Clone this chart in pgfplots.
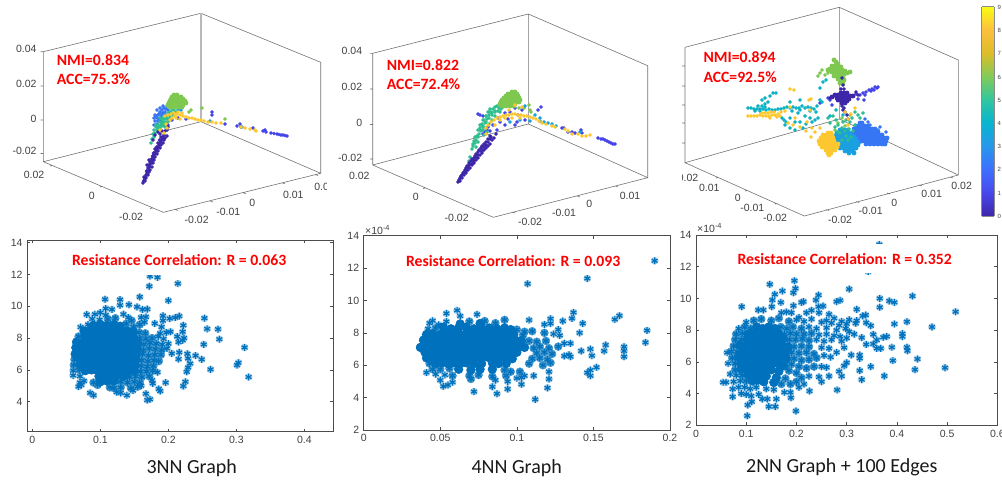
\documentclass[border=0pt]{standalone}
\usepackage{pgfplots}
\usepackage{fontspec}
\pgfplotsset{compat=1.18}
\usepackage{pgfplotstable}
\setmainfont{Liberation Sans}
\newfontfamily\calib{Carlito}
\newcommand{\redf}{\calib\bfseries\fontsize{15.7}{18}\selectfont}
\newcommand{\capf}{\calib\fontsize{20}{22}\selectfont}
\newcommand{\tkf}{\fontsize{10.5}{12}\selectfont}
\definecolor{tk}{gray}{0.25}
\definecolor{mb}{RGB}{0,114,189}
\definecolor{c0}{RGB}{62,38,168}
\definecolor{c1}{RGB}{68,68,232}
\definecolor{c2}{RGB}{54,118,245}
\definecolor{c3}{RGB}{26,160,224}
\definecolor{c4}{RGB}{10,178,196}
\definecolor{c5}{RGB}{46,190,144}
\definecolor{c6}{RGB}{126,200,80}
\definecolor{c8}{RGB}{253,200,47}
\pgfplotsset{
 colormap={parula}{rgb=(0.2422,0.1504,0.6603) rgb=(0.2803,0.2782,0.9221) rgb=(0.2440,0.4358,0.9988) rgb=(0.1540,0.5902,0.9218) rgb=(0.0297,0.7082,0.8163) rgb=(0.1938,0.7758,0.6251) rgb=(0.5044,0.7993,0.3480) rgb=(0.8634,0.7406,0.1596) rgb=(0.9892,0.7500,0.2400) rgb=(0.9769,0.9839,0.0805)},
 low/.style={axis lines=box,scale only axis,anchor=south west,clip=true,tick align=inside,major tick length=3pt,
   axis line style={draw=black!70,line width=.6pt},tick style={draw=black!70,line width=.5pt},
   xtick pos=both,ytick pos=both,
   ytick={2,4,...,14},ymin=2,ymax=14,scaled ticks=false,
   tick label style={font=\tkf,text=tk},
   xticklabel style={yshift=-1pt},yticklabel style={xshift=-1pt},
   /pgf/number format/assume math mode=true},
 star/.style={only marks,mark=asterisk,mark size=3.4pt,color=mb,mark options={line width=1.2pt,solid}},
 halo/.style={only marks,mark=*,mark size=3.6pt,color=mb!35,mark options={draw=none}},
 mid/.style={only marks,mark=*,mark size=4pt,color=mb!72,mark options={draw=none}},
 core/.style={only marks,mark=*,mark size=4.4pt,color=mb,mark options={draw=none}},
 dots/.style={only marks,mark=*,mark size=1.7pt,color=#1,mark options={draw=none,fill=#1}},
 dotb/.style={only marks,mark=*,mark size=2.2pt,color=#1,mark options={draw=none,fill=#1}},
 box3/.style={draw=black!55,line width=.6pt,no marks,unbounded coords=jump},
}
\pgfplotstableread[row sep=\\]{x y\\
0.173 11.9\\0.184 11.82\\0.214 11.43\\0.172 11.26\\0.2 10.36\\0.158 10.59\\0.107 10.44\\0.129 10.42\\0.142 10.1\\0.154 9.96\\0.162 9.8\\0.169 9.82\\0.117 9.8\\0.108 9.86\\0.129 10.07\\0.08 9.48\\0.071 8.69\\0.192 9.4\\0.202 9.23\\0.21 9.29\\0.216 9.38\\0.253 9.25\\0.257 8.58\\0.273 8.56\\0.275 7.93\\0.252 7.6\\0.312 7.41\\0.303 6.45\\0.301 6.3\\0.318 5.55\\0.262 6.03\\0.249 6.66\\0.24 6.9\\0.228 7.01\\0.229 6.72\\0.232 6.4\\0.229 6.15\\0.227 5.88\\0.225 5.25\\0.222 4.98\\0.196 5.2\\0.188 4.67\\0.186 4.8\\0.177 5.15\\0.176 5.35\\0.167 4.5\\0.169 4.1\\0.173 4.15\\0.215 6.68\\0.205 7.03\\0.216 7.1\\0.221 7.87\\0.223 8.0\\0.213 8.1\\0.221 8.4\\0.222 8.8\\0.18 8.92\\0.19 8.7\\0.192 9.1\\0.167 9.33\\0.16 9.3\\0.203 8.4\\0.197 8.35\\0.188 8.3\\0.215 7.75\\
0.1 9.6\\0.092 9.5\\0.108 9.45\\0.088 9.2\\0.099 9.15\\0.111 9.2\\0.122 9.25\\0.134 9.5\\0.141 9.3\\0.146 9.1\\
0.082 8.85\\0.09 8.8\\0.1 8.85\\0.11 8.8\\0.12 8.85\\0.129 8.75\\0.138 8.9\\0.149 8.7\\0.158 8.85\\0.165 9.0\\
0.076 8.45\\0.085 8.5\\0.094 8.4\\0.103 8.5\\0.112 8.45\\0.121 8.5\\0.13 8.4\\0.139 8.45\\0.148 8.4\\0.157 8.35\\0.166 8.3\\
0.068 8.1\\0.077 8.1\\0.086 8.15\\0.095 8.05\\0.104 8.15\\0.113 8.1\\0.122 8.15\\0.131 8.05\\0.14 8.1\\0.149 8.0\\0.158 8.0\\0.167 7.95\\0.176 8.0\\0.185 8.1\\0.193 7.95\\
0.065 7.75\\0.074 7.7\\0.083 7.8\\0.092 7.7\\0.101 7.75\\0.11 7.7\\0.119 7.8\\0.128 7.7\\0.137 7.75\\0.146 7.65\\0.155 7.7\\0.164 7.6\\0.173 7.7\\0.182 7.65\\0.191 7.6\\0.2 7.65\\
0.064 7.4\\0.073 7.35\\0.082 7.4\\0.091 7.35\\0.1 7.4\\0.109 7.35\\0.118 7.4\\0.127 7.35\\0.136 7.4\\0.145 7.3\\0.154 7.35\\0.163 7.25\\0.172 7.35\\0.181 7.3\\0.19 7.25\\0.198 7.35\\
0.063 7.0\\0.072 7.05\\0.081 7.0\\0.09 7.05\\0.099 7.0\\0.108 7.05\\0.117 7.0\\0.126 7.05\\0.135 7.0\\0.144 6.95\\0.153 6.95\\0.162 7.0\\0.171 6.9\\0.18 6.95\\0.189 6.95\\
0.062 6.65\\0.071 6.7\\0.08 6.65\\0.089 6.7\\0.098 6.65\\0.107 6.7\\0.116 6.65\\0.125 6.7\\0.134 6.65\\0.143 6.6\\0.152 6.65\\0.161 6.6\\0.17 6.55\\0.179 6.6\\0.186 6.55\\
0.061 6.3\\0.07 6.35\\0.079 6.3\\0.088 6.35\\0.097 6.3\\0.106 6.35\\0.115 6.3\\0.124 6.35\\0.133 6.3\\0.142 6.25\\0.151 6.3\\0.16 6.25\\0.169 6.2\\0.178 6.25\\
0.06 5.95\\0.069 6.0\\0.078 5.95\\0.087 6.0\\0.096 5.95\\0.105 6.0\\0.114 5.95\\0.123 6.0\\0.132 5.95\\0.141 5.9\\0.15 5.95\\0.159 5.9\\0.168 5.9\\0.177 5.95\\0.184 5.85\\
0.06 5.65\\0.07 5.6\\0.098 5.6\\0.107 5.65\\0.116 5.6\\0.125 5.65\\0.134 5.6\\0.143 5.55\\0.152 5.6\\0.161 5.55\\0.172 5.6\\
0.07 5.2\\0.076 5.3\\0.09 5.2\\0.1 5.25\\0.11 5.3\\0.12 5.3\\0.13 5.25\\0.14 5.2\\0.15 5.25\\0.158 5.2\\
0.068 4.95\\0.072 5.05\\0.096 5.05\\0.114 4.9\\0.12 4.85\\0.13 4.9\\0.145 4.85\\0.155 4.95\\0.16 5.0\\
0.085 4.55\\0.09 4.4\\0.124 4.6\\0.13 4.55\\0.139 4.4\\0.148 4.7\\
}\tblA
\pgfplotstableread[row sep=\\]{x y\\
0.19 12.45\\0.107 11.03\\0.146 11.36\\0.061 9.39\\0.054 9.2\\0.063 9.04\\0.074 9.14\\0.137 9.26\\0.136 8.89\\0.167 9.06\\0.164 8.83\\0.143 8.58\\0.122 8.87\\0.13 8.73\\0.108 8.79\\0.118 8.52\\0.122 8.58\\0.185 8.15\\0.141 8.0\\0.118 8.0\\0.127 8.2\\0.124 7.93\\0.128 7.84\\0.184 7.41\\0.158 7.25\\0.157 6.88\\0.17 7.14\\0.17 6.88\\0.17 6.53\\0.148 7.0\\0.142 6.88\\0.149 6.59\\0.135 6.53\\0.131 6.57\\0.152 5.87\\0.148 5.7\\0.146 5.54\\0.148 5.35\\0.111 5.35\\0.121 5.6\\0.121 5.15\\0.12 4.6\\0.112 3.89\\0.094 4.53\\0.087 4.24\\0.072 4.37\\0.094 5.0\\0.1 5.2\\0.103 4.82\\0.084 4.67\\0.135 7.35\\0.131 7.35\\0.134 6.65\\
0.045 8.75\\0.054 8.7\\0.069 8.7\\0.076 8.58\\0.079 8.73\\0.086 8.6\\0.092 8.8\\0.1 8.2\\0.105 8.07\\0.043 8.6\\0.049 8.5\\0.063 8.55\\
0.042 8.25\\0.047 8.3\\0.052 8.35\\0.057 8.25\\0.062 8.3\\0.067 8.35\\0.072 8.25\\0.077 8.3\\0.082 8.3\\0.087 8.25\\0.092 8.3\\0.096 8.2\\
0.041 7.9\\0.045 7.95\\0.05 7.9\\0.054 8.0\\0.058 7.9\\0.062 7.95\\0.066 7.9\\0.07 8.0\\0.074 7.9\\0.078 7.95\\0.082 7.9\\0.086 7.95\\0.09 7.85\\0.094 7.9\\0.098 7.9\\0.104 7.85\\0.11 8.1\\
0.039 7.55\\0.043 7.6\\0.047 7.55\\0.051 7.6\\0.055 7.55\\0.059 7.6\\0.063 7.55\\0.067 7.6\\0.071 7.55\\0.075 7.6\\0.079 7.55\\0.083 7.6\\0.087 7.55\\0.091 7.6\\0.095 7.55\\0.099 7.55\\0.103 7.5\\0.108 7.5\\0.113 7.45\\0.119 7.5\\
0.037 7.1\\0.041 7.2\\0.045 7.15\\0.049 7.2\\0.053 7.15\\0.057 7.2\\0.061 7.15\\0.065 7.2\\0.069 7.15\\0.073 7.2\\0.077 7.15\\0.081 7.2\\0.085 7.15\\0.089 7.2\\0.093 7.15\\0.097 7.2\\0.101 7.15\\0.105 7.1\\0.111 7.05\\0.115 7.15\\0.121 7.05\\0.127 7.15\\
0.04 6.8\\0.044 6.8\\0.048 6.85\\0.052 6.8\\0.056 6.85\\0.06 6.8\\0.064 6.85\\0.068 6.8\\0.072 6.85\\0.076 6.8\\0.08 6.85\\0.084 6.8\\0.088 6.85\\0.092 6.8\\0.096 6.85\\0.1 6.8\\0.113 6.75\\0.118 6.8\\0.123 6.7\\
0.041 6.45\\0.045 6.45\\0.049 6.5\\0.053 6.45\\0.057 6.5\\0.061 6.45\\0.065 6.5\\0.069 6.45\\0.073 6.5\\0.077 6.45\\0.081 6.5\\0.085 6.45\\0.089 6.5\\0.093 6.45\\0.097 6.4\\0.11 6.4\\0.115 6.45\\0.12 6.35\\
0.043 6.1\\0.047 6.1\\0.051 6.15\\0.055 6.1\\0.059 6.15\\0.063 6.1\\0.067 6.15\\0.072 6.1\\0.077 6.1\\0.084 6.15\\0.088 6.1\\0.093 6.1\\0.108 6.1\\0.117 6.0\\0.122 6.15\\
0.041 5.55\\0.045 5.75\\0.05 5.75\\0.056 5.8\\0.062 5.75\\0.07 5.7\\0.076 5.75\\0.084 5.75\\0.092 5.7\\0.096 5.6\\0.102 5.6\\0.105 5.35\\
0.047 5.45\\0.053 5.4\\0.058 5.35\\0.069 5.35\\0.075 5.4\\0.084 5.3\\0.093 5.35\\
0.05 5.08\\0.055 4.78\\0.058 4.95\\0.07 5.15\\0.086 5.08\\0.103 5.25\\0.052 4.7\\
}\tblB
\pgfplotstableread[row sep=\\]{x y\\
0.517 9.16\\0.47 8.2\\0.496 5.63\\0.436 5.51\\0.441 6.18\\0.431 10.15\\0.395 9.75\\0.385 9.84\\0.366 10.0\\0.366 9.44\\0.32 9.31\\0.305 10.59\\0.287 9.88\\0.28 9.8\\0.42 8.53\\0.395 8.39\\0.411 7.78\\0.411 7.59\\0.42 6.92\\0.421 6.7\\0.39 6.92\\0.392 6.08\\0.375 5.11\\0.348 5.7\\0.33 4.88\\0.326 5.45\\0.281 4.23\\0.368 6.85\\0.36 6.85\\0.353 7.13\\0.339 7.1\\0.36 7.38\\0.373 7.55\\0.38 7.6\\0.353 7.73\\0.348 8.28\\0.339 8.47\\0.332 8.9\\0.338 8.95\\0.318 8.43\\0.33 7.53\\0.309 6.43\\0.326 6.43\\0.326 6.22\\0.196 11.12\\0.147 10.89\\0.172 10.47\\0.198 10.63\\0.194 10.36\\0.157 10.26\\0.244 10.21\\0.091 9.48\\0.169 9.75\\0.152 9.9\\0.194 9.54\\0.214 9.8\\0.134 9.27\\0.124 9.27\\0.151 9.48\\0.253 9.52\\0.244 9.48\\0.239 9.9\\0.199 2.9\\0.102 2.6\\0.103 3.28\\0.145 3.18\\0.158 3.18\\0.16 3.66\\0.189 3.74\\0.188 4.08\\0.226 4.16\\0.176 4.08\\0.054 4.71\\0.06 4.71\\0.073 3.8\\0.062 6.58\\0.064 5.9\\0.068 5.23\\0.073 4.29\\0.111 3.49\\0.132 3.66\\0.142 3.66\\0.365 13.4\\0.343 11.7\\
0.32 8.6\\0.305 8.65\\0.3 8.4\\0.29 8.55\\0.298 8.1\\0.305 7.9\\0.315 7.75\\0.3 7.5\\0.29 7.3\\0.295 6.9\\0.3 5.95\\0.295 5.75\\0.285 5.4\\0.29 5.1\\0.265 5.1\\0.25 4.75\\0.245 5.05\\0.26 5.65\\0.268 6.3\\0.28 6.6\\0.265 9.0\\0.275 8.75\\0.26 8.6\\0.245 9.1\\0.23 9.25\\0.22 9.1\\0.21 9.75\\0.17 9.1\\0.18 9.15\\0.19 9.1\\0.205 8.8\\0.215 4.6\\0.205 4.4\\0.235 5.7\\0.25 5.7\\0.24 6.25\\0.255 6.4\\
0.1 8.5\\0.115 8.6\\0.13 8.7\\0.15 8.6\\0.165 8.75\\0.185 8.55\\0.2 8.65\\0.215 8.55\\0.23 8.7\\0.25 8.5\\0.27 8.45\\0.285 8.3\\
0.085 8.1\\0.097 8.2\\0.109 8.1\\0.121 8.2\\0.133 8.1\\0.145 8.2\\0.157 8.1\\0.169 8.2\\0.181 8.1\\0.193 8.2\\0.21 8.1\\0.225 8.2\\0.24 8.1\\0.26 8.15\\0.28 8.0\\
0.08 7.75\\0.092 7.8\\0.104 7.75\\0.116 7.8\\0.128 7.75\\0.14 7.8\\0.152 7.75\\0.164 7.8\\0.176 7.75\\0.188 7.8\\0.2 7.75\\0.215 7.75\\0.23 7.8\\0.245 7.7\\0.26 7.75\\0.275 7.65\\0.287 7.6\\
0.078 7.4\\0.09 7.4\\0.102 7.45\\0.114 7.4\\0.126 7.45\\0.138 7.4\\0.15 7.45\\0.162 7.4\\0.174 7.45\\0.186 7.4\\0.198 7.4\\0.212 7.45\\0.225 7.35\\0.24 7.4\\0.255 7.3\\0.27 7.4\\
0.075 7.0\\0.087 7.05\\0.099 7.0\\0.111 7.05\\0.123 7.0\\0.135 7.05\\0.147 7.0\\0.159 7.05\\0.171 7.0\\0.183 6.95\\0.195 6.95\\0.21 7.0\\0.225 6.95\\0.25 6.9\\0.265 6.85\\
0.07 6.65\\0.082 6.65\\0.094 6.7\\0.106 6.65\\0.118 6.7\\0.13 6.65\\0.142 6.7\\0.154 6.65\\0.166 6.6\\0.178 6.55\\0.19 6.6\\0.205 6.55\\0.22 6.6\\0.235 6.5\\
0.072 6.25\\0.084 6.3\\0.096 6.25\\0.108 6.3\\0.12 6.25\\0.132 6.3\\0.144 6.25\\0.156 6.3\\0.168 6.25\\0.18 6.2\\0.195 6.2\\0.21 6.1\\0.225 6.15\\
0.078 5.9\\0.09 5.9\\0.102 5.95\\0.114 5.9\\0.126 5.95\\0.138 5.9\\0.15 5.95\\0.162 5.9\\0.175 5.75\\0.19 5.85\\0.205 5.7\\0.22 5.6\\
0.078 5.5\\0.09 5.55\\0.102 5.5\\0.114 5.55\\0.126 5.5\\0.138 5.55\\0.15 5.5\\0.165 5.4\\0.185 5.45\\0.2 5.3\\
0.08 5.15\\0.092 5.15\\0.104 5.2\\0.116 5.15\\0.128 5.2\\0.14 5.1\\0.16 5.0\\0.178 4.95\\0.21 5.0\\0.225 5.1\\
0.075 4.75\\0.088 4.8\\0.1 4.8\\0.112 4.8\\0.124 4.85\\0.135 4.75\\0.155 4.7\\0.17 4.6\\0.188 4.6\\0.2 4.75\\
0.085 4.4\\0.097 4.4\\0.108 4.3\\0.12 4.4\\0.14 4.3\\0.155 4.25\\
0.09 4.0\\0.1 3.95\\0.11 3.85\\0.125 3.95\\
}\tblC
\begin{document}
\begin{tikzpicture}
\path[use as bounding box] (0,0) rectangle (1002pt,480pt);
% lower row
\begin{axis}[low,at={(27pt,48.3pt)},width=306pt,height=191.7pt,xmin=-0.0078,xmax=0.442,ymin=2.11,ymax=14.17,ytick={4,6,...,14},
 xtick={0,0.1,0.2,0.3,0.4},xticklabels={0,0.1,0.2,0.3,0.4}]
\addplot[halo] table[x=x,y=y] {\tblA};
\addplot[mid,restrict expr to domain={((\thisrow{x}-0.125)/0.068)^2+((\thisrow{y}-7.0)/2.3)^2}{0:1}] table[x=x,y=y] {\tblA};
\addplot[star] table[x=x,y=y] {\tblA};
\addplot[core,restrict expr to domain={((\thisrow{x}-0.112)/0.05)^2+((\thisrow{y}-7.1)/1.95)^2}{0:1}] table[x=x,y=y] {\tblA};
\end{axis}
\begin{axis}[low,at={(363.7pt,50pt)},width=306.3pt,height=194.3pt,xmin=0,xmax=0.2,
 xtick={0,0.05,0.1,0.15,0.2},xticklabels={0,0.05,0.1,0.15,0.2}]
\addplot[halo] table[x=x,y=y] {\tblB};
\addplot[mid,restrict expr to domain={((\thisrow{x}-0.08)/0.05)^2+((\thisrow{y}-7.0)/1.9)^2}{0:1}] table[x=x,y=y] {\tblB};
\addplot[star] table[x=x,y=y] {\tblB};
\addplot[core,restrict expr to domain={((\thisrow{x}-0.072)/0.036)^2+((\thisrow{y}-7.15)/1.5)^2}{0:1}] table[x=x,y=y] {\tblB};
\end{axis}
\begin{axis}[low,at={(696pt,54.7pt)},width=301.3pt,height=190.3pt,xmin=0,xmax=0.6,
 xtick={0,0.1,0.2,0.3,0.4,0.5,0.6},xticklabels={0,0.1,0.2,0.3,0.4,0.5,0.6}]
\addplot[halo] table[x=x,y=y] {\tblC};
\addplot[mid,restrict expr to domain={((\thisrow{x}-0.155)/0.09)^2+((\thisrow{y}-6.6)/2.3)^2}{0:1}] table[x=x,y=y] {\tblC};
\addplot[star] table[x=x,y=y] {\tblC};
\addplot[core,restrict expr to domain={((\thisrow{x}-0.135)/0.052)^2+((\thisrow{y}-6.4)/1.9)^2}{0:1}] table[x=x,y=y] {\tblC};
\end{axis}
% colorbar
\begin{axis}[at={(981.7pt,264pt)},anchor=south west,scale only axis,width=12.6pt,height=209.3pt,xmin=0,xmax=1,ymin=0,ymax=9,xtick=\empty,ytick=\empty,view={0}{90},colormap name=parula,axis line style={draw=black!45,line width=.6pt}]
\addplot3[surf,shader=interp,point meta=y] coordinates {(0,0,0)(1,0,0)

(0,9,0)(1,9,0)};
\end{axis}
% overlay in image pixels: upper row and all annotations
\begin{axis}[at={(0pt,0pt)},anchor=south west,scale only axis,width=1002pt,height=480pt,xmin=0,xmax=1002,ymin=0,ymax=480,y dir=reverse,hide axis,clip=false]
% --- panel 1 box
\addplot[box3] coordinates {(43.3,51.7)(201,13.3)(320.7,62.3)(320.7,173.3)(163.3,212.3)(43.3,161.7)(43.3,51.7)(nan,nan)(43.3,161.7)(201,121.7)(320.7,173.3)
(nan,nan)(40.5,51.7)(43.3,51.7)(nan,nan)(40.5,86)(43.3,86)(nan,nan)(40.5,120)(43.3,120)(nan,nan)(40.5,153.5)(43.3,153.5)
(nan,nan)(50,166)(52.5,165.5)(nan,nan)(100,187)(102.5,186.5)(nan,nan)(150,208.5)(152.5,208)(nan,nan)(175,209.5)(178,210.5)(nan,nan)(210,201)(213,202)(nan,nan)(243,192.7)(246,193.7)(nan,nan)(281.7,182.7)(284.7,183.7)(nan,nan)(315,174.5)(318,175.5)};
\addplot[draw=black!28,line width=1.2pt,no marks] coordinates {(201,13.3)(201,121.7)};
% --- panel 2 box
\addplot[box3] coordinates {(372.7,53.3)(528.3,14)(647.7,65.7)(647.7,177.7)(493.3,217.3)(372.7,165)(372.7,53.3)(nan,nan)(372.7,165)(528.3,124)(647.7,177.7)
(nan,nan)(528.3,14)(528.3,124)
(nan,nan)(370,53.3)(372.7,53.3)(nan,nan)(370,89)(372.7,89)(nan,nan)(370,124.5)(372.7,124.5)(nan,nan)(370,159)(372.7,159)
(nan,nan)(423,188.5)(425.5,188)(nan,nan)(473,210)(475.5,209.5)(nan,nan)(512,212)(515,213)(nan,nan)(577,196)(580,197)(nan,nan)(615,186)(618,187)(nan,nan)(615,186)(615,186)};
% --- panel 3 box
\addplot[box3] coordinates {(685,47.3)(839.3,7.3)(958.3,60)(958.3,175)(804.3,216)(685,162.7)(685,47.3)(nan,nan)(685,162.7)(839.3,119)(958.3,175)
(nan,nan)(839.3,7.3)(839.3,119)
(nan,nan)(682,66)(685,66)(nan,nan)(682,86)(685,86)(nan,nan)(682,105)(685,105)(nan,nan)(682,123)(685,123)(nan,nan)(682,143)(685,143)
(nan,nan)(716,178)(718.5,177.5)(nan,nan)(745,191)(747.5,190.5)(nan,nan)(775,204)(777.5,203.5)
(nan,nan)(826,209.5)(829,210.5)(nan,nan)(856,201.5)(859,202.5)(nan,nan)(887,193)(890,194)(nan,nan)(919,185)(922,186)(nan,nan)(950,177)(953,178)};
% --- panel 1 points
\addplot[dots=c1] coordinates {(172,120)(178,118)(186,119)(168,125)(212,112)(212,115)(225,124)(237,126)(240,124)(241,127)(253,128)(263,131)(266,132)(265,130)(271,133)(274,133.5)(277,134)(279,134.5)(281,135)(283,135)(285,135.5)(287,136)};
\addplot[dots=c2] coordinates {(157,118)(158,115)(160,112)(162,110)(164,108)(166,109)(168,110)(159,119)(161,116)(163,113)(165,112)(158,121)(167,106)(155,121)(170,107)(156,116)(157,110)(160,108)(163,106)(155,115)(154,118)(159,114)(162,114)(165,115)(161,121)(157,124)(154,125)};
\addplot[dots=c3] coordinates {(210,121)(242,127)(178,110)(181,110)};
\addplot[dots=c5] coordinates {(151,143)(152,139)(154,137)(155,133)(157,130)(159,127)(161,125)(163,122)(165,119)(167,116)(169,114)(171,112)(162,119)(160,122)(158,125)(166,122)(164,125)(168,119)(170,117)(172,109)(174,110)(176,112)(173,115)(156,125)(158,128)(160,118)(162,126)(164,122)(166,118)(168,113)(154,130)(156,127)(160,128)(162,123)(165,127)(163,118)(170,112)(153,134)(167,123)(169,121)(171,118)};
\addplot[dotb=c6] coordinates {(174,95)(177,95)(172,97)(175,97)(178,97)(181,97)(171,99)(174,99)(177,99)(180,99)(183,99)(170,101)(173,101)(176,101)(179,101)(182,101)(185,101)(169,103)(172,103)(175,103)(178,103)(181,103)(184,103)(186,103)(168,105)(171,105)(174,105)(177,105)(180,105)(183,105)(170,107)(174,107)(178,107)(182,107)};
\addplot[dots=c6] coordinates {(191,110)(202,108)(225,119)(189,112)};
\addplot[dots=c0] coordinates {(143,183)(143.5,181)(144.5,179)(144,177)(145.5,177)(146,175)(147,173)(146.5,171)(148,171)(148,168)(149.5,167)(149,165)(150.5,164)(150,162)(152,161)(151.5,159)(153,158)(152.5,156)(154,155)(155,153)(153.5,153)(156,151)(155,149)(157,149)(158,147)(156.5,147)(159,145)(158,143)(160,143)(161,141)(159.5,140)(162,139)(163,137)(161,137)(164,135)(160,134)(155,135)(153,140)(167,130)(165,131)(168,127)(158,132)(162,131)(145,181)(146,178)(148,175)(149,172)(150,170)(152,167)(153,163)(154,160)(155,157)(157,154)(158,151)(160,148)(161,145)(163,143)(164,140)(165,138)(167,136)(149,160)(147,165)};
\addplot[dots=c8] coordinates {(165,116)(168,115)(171,114)(174,113)(177,114)(180,115)(183,116)(186,117)(189,118)(192,118)(195,119)(198,120)(201,120)(204,121)(208,122)(212,122)(216,123)(221,123)(172,118)(176,118)(180,119)(170,120)(178,112)(182,113)(175,116)(167,128)(164,133)(166,124)(245,128)(250,129)(255,130)(256,131)(241,127)(160,130)};
% --- panel 2 points
\addplot[dots=c1] coordinates {(480,115)(478,114)(483,116)(485,132)(487,130)(490,131)(483,134)(488,127)(493,125)(498,118)(505,113)(510,112)(515,108)(522,110)(518,115)(508,119)(500,122)(505,125)(517,122)(525,120)(515,125)(541,107)(538,110)(497,130)(581,130)(562,128)(564,128)(568,132)(572,132)(575,133)(582,133)(598,138)(601,139)(603,139)(605,140)(607,141)(609,142)(611,143)(613,144)(615,144)};
\addplot[dots=c5] coordinates {(472,149)(473,146)(475,143)(476,140)(478,137)(479,134)(481,131)(480,128)(483,127)(482,124)(485,123)(484,120)(487,119)(486,116)(489,115)(488,112)(491,112)(490,109)(493,109)(495,107)(497,106)(499,108)(483,130)(486,128)(489,124)(492,120)(495,116)(492,113)(495,111)(498,111)(500,105)(501,109)(478,142)(476,147)(500,112)(503,107)(470,157)(469,161)(478,130)(480,125)(483,120)(486,116)(489,112)(475,137)(477,136)(480,130)(483,126)(486,122)(489,118)(492,115)(495,112)(484,135)(487,132)(474,141)(473,144)};
\addplot[dotb=c6] coordinates {(512,92)(515,92)(508,94)(511,94)(514,94)(517,94)(506,96)(509,96)(512,96)(515,96)(518,96)(504,98)(507,98)(510,98)(513,98)(516,98)(519,98)(502,100)(505,100)(508,100)(511,100)(514,100)(517,100)(520,100)(501,102)(504,102)(507,102)(510,102)(513,102)(516,102)(519,102)(500,104)(503,104)(506,104)(509,104)(512,104)(515,104)(502,106)(506,106)(510,106)(514,106)};
\addplot[dots=c6] coordinates {(529,105)(524,108)(531,112)(530,110)(519,108)};
\addplot[dots=c0] coordinates {(458,182)(459,180)(460,178)(461,177)(462,175)(461,176)(463,173)(464,172)(465,170)(466,171)(466,168)(467,166)(468,167)(469,165)(469,163)(471,164)(471,161)(472,159)(473,160)(474,158)(475,156)(476,157)(476,154)(478,155)(478,152)(479,150)(481,151)(481,148)(482,146)(484,147)(484,144)(486,145)(486,142)(488,142)(488,139)(490,139)(491,137)(483,150)(474,161)(473,163)(460,181)(462,178)(464,175)(466,173)(468,170)(470,168)(472,165)(474,163)(476,160)(478,158)(480,155)(482,153)(484,150)(486,148)(488,146)(490,144)(492,140)(490,136)(494,138)(496,134)};
\addplot[dots=c3] coordinates {(540,121)(544,122)(548,123)(552,124)(556,126)(535,115)(525,106)(520,120)(510,122)(540,118)(530,121)(580,132)};
\addplot[dots=c8] coordinates {(486,128)(488,125)(491,122)(494,120)(497,118)(500,117)(503,116)(506,115)(509,115)(512,114)(515,114)(518,115)(521,115)(524,116)(527,116)(530,117)(533,118)(536,119)(539,121)(542,123)(546,124)(552,126)(555,127)(500,120)(505,118)(512,118)(520,118)(495,125)(486,134)(565,129)(568,131)(572,134)(578,134)(582,136)(586,136)(590,135)(509,110)(515,105)(522,107)};
% --- panel 3 points
\addplot[dotb=c6] coordinates {(834,60)(836,62)(838,64)(832,66)(835,66)(838,67)(841,67)(830,69)(833,69)(836,70)(839,70)(842,70)(845,71)(828,70)(832,72)(835,73)(838,73)(841,73)(844,74)(847,73)(850,72)(834,76)(837,76)(840,76)(843,77)(838,79)(841,80)(844,80)(840,83)(843,84)};
\addplot[dots=c6] coordinates {(820,73)(822,70)(825,75)(828,73)(818,76)(842,118)(838,123)(845,126)(835,130)(850,115)};
\addplot[dotb=c3] coordinates {(840,130)(844,130)(848,130)(837,133)(841,133)(845,133)(849,133)(853,133)(835,136)(839,136)(843,136)(847,136)(851,136)(855,136)(835,139)(839,139)(843,139)(847,139)(851,139)(855,139)(859,139)(835,142)(839,142)(843,142)(847,142)(851,142)(855,142)(859,142)(838,145)(842,145)(846,145)(850,145)(854,145)(858,145)(840,148)(844,148)(848,148)(852,148)(856,148)(845,151)(849,151)(853,151)(849,153)(854,153)};
\addplot[dotb=c2] coordinates {(860,123)(862,123)(856,126)(859,126)(862,126)(865,126)(868,126)(854,129)(857,129)(860,129)(863,129)(866,129)(869,129)(872,129)(875,129)(854,132)(857,132)(860,132)(863,132)(866,132)(869,132)(872,132)(875,132)(878,132)(858,135)(861,135)(864,135)(867,135)(870,135)(873,135)(876,135)(879,135)(882,135)(860,138)(863,138)(866,138)(869,138)(872,138)(875,138)(878,138)(881,138)(884,138)(887,138)(862,141)(865,141)(868,141)(871,141)(874,141)(877,141)(880,141)(883,141)(886,141)(866,144)(870,144)(874,144)(878,144)(882,144)(885,144)};
\addplot[dots=c2] coordinates {(880,127)(878,130)(886,132)(870,125)(865,119)(868,122)};
\addplot[dots=c5] coordinates {(846,120)(850,122)(855,125)(835,127)(838,125)(842,128)(845,131)(849,129)(853,131)(840,133)(846,136)(851,137)(836,120)(828,118)(833,116)(858,115)(863,113)(860,118)(852,118)(830,123)(843,122)(848,140)(842,140)(838,132)(855,112)};
\addplot[dots=c1] coordinates {(860,95)(863,93)(866,92)(869,90)(872,89)(875,87)(877,88)(874,90)(871,91)(878,87)(856,94)(864,100)(858,99)(865,95)(828,98)(830,100)(832,105)(820,103)};
\addplot[dotb=c0] coordinates {(832,97)(835,95)(838,95)(841,93)(844,93)(847,93)(850,96)(853,96)(837,98)(840,97)(843,96)(846,97)(849,99)(838,100)(841,100)(844,100)(847,101)(842,103)(845,103)};
\addplot[dots=c0] coordinates {(842,106)(844,108)(843,110)(845,112)(841,89)(844,89)(847,115)(848,119)(842,78)(843,85)(856,92)(858,95)(830,98)};
\addplot[dots=c4] coordinates {(748,108)(751,108)(754,109)(757,109)(760,109)(763,109)(766,110)(769,109)(772,110)(775,110)(778,109)(781,109)(765,107)(758,106)(762,106)(765,104)(768,102)(762,100)(765,98)(770,96)(773,93)(776,93)(755,111)(760,111)(784,108)(787,107)(790,108)(793,107)(796,108)(799,108)(802,106)(805,108)(808,107)(811,108)(814,109)(817,106)(792,111)(800,110)(810,111)(782,118)(786,122)(790,118)(785,125)(795,130)(800,122)(805,116)(810,118)(790,102)(800,100)(816,112)(820,100)(823,82)(826,80)(820,88)(822,102)(790,128)(830,116)(836,110)(843,115)(795,122)(803,128)(812,122)(818,118)(798,113)(806,124)(815,120)(784,120)};
\addplot[dotb=c8] coordinates {(828,133)(831,133)(823,135)(826,135)(829,135)(832,135)(821,138)(824,138)(827,138)(830,138)(833,138)(819,141)(822,141)(825,141)(828,141)(831,141)(834,141)(820,144)(823,144)(826,144)(829,144)(832,144)(835,144)(838,144)(822,147)(825,147)(828,147)(831,147)(834,147)(837,147)(826,150)(829,150)(832,150)(835,150)(828,153)(831,153)(829,155)};
\addplot[dots=c8] coordinates {(812,128)(815,132)(811,137)(806,131)(820,128)(845,112)(855,108)(848,125)(810,110)(807,122)(800,127)(793,125)(788,123)(795,118)(848,119)(851,114)(748,116)(751,116)(754,116)(757,116)(760,115)(763,116)(766,116)(769,116)(772,115)(775,115)(778,114)(781,112)(765,113)(768,113)(771,112)(774,112)(777,117)(770,118)(762,113)(780,116)(785,111)(790,107)(809,100)(811,99)(794,90)(790,89)};
% --- tick labels of the upper row
\foreach \x/\y/\t in {40/49/0.04,40/84/0.02,40/119/0,40/151/-0.02}{\edef\tmp{\noexpand\node[anchor=east,font=\noexpand\tkf,text=tk] at (axis cs:\x,\y) {\t};}\tmp}
\foreach \x/\y/\t in {34/175/0.02,91.7/196/0,131/216.7/-0.02,196.7/220/-0.02,228.3/212.3/-0.01,252.3/203.3/0,293.3/195/0.01,321.7/186.7/0.0,
 359.3/175.7/0.02,415.7/197.3/0,456.7/218.3/-0.02,530/222.3/-0.02,564/213.3/-0.01,589.3/204.3/0,630/195.7/0.01,
 688/177.7/0.02,709.3/187.7/0.01,737.7/197.7/0,752.3/207.7/-0.01,775/217.7/-0.02,840/220/-0.02,870.7/211/-0.01,894.3/202.7/0,931.7/194.3/0.01,961.7/185.7/0.02}
 {\edef\tmp{\noexpand\node[anchor=center,font=\noexpand\tkf,text=tk] at (axis cs:\x,\y) {\t};}\tmp}
\foreach \x/\y/\t in {365.7/51/0.04,365.7/87/0.02,365.7/123/0,365.7/158/-0.02}{\edef\tmp{\noexpand\node[anchor=east,font=\noexpand\tkf,text=tk] at (axis cs:\x,\y) {\t};}\tmp}
\fill[white] (axis cs:327,176) rectangle (axis cs:340,196);
\fill[white] (axis cs:672,170) rectangle (axis cs:681.5,186);
% colour bar labels
\foreach \y/\t in {7/9,30/8,53/7,77/6,100/5,123/4,146/3,169/2,193/1,216.5/0}{\edef\tmp{\noexpand\node[anchor=west,inner sep=0pt,font=\noexpand\fontsize{6}{7}\noexpand\selectfont,text=tk] at (axis cs:997.5,\y) {\t};}\tmp}
% exponent labels
\node[anchor=west,inner sep=0pt,font=\fontsize{10.5}{12}\selectfont,text=tk] at (axis cs:365,230) {×10\textsuperscript{-4}};
\node[anchor=west,inner sep=0pt,font=\fontsize{10.5}{12}\selectfont,text=tk] at (axis cs:697,228) {×10\textsuperscript{-4}};
% white boxes behind the red text
\fill[white] (axis cs:70,246) rectangle (axis cs:288,275);
\fill[white] (axis cs:404,247) rectangle (axis cs:622,275);
\fill[white] (axis cs:736,244) rectangle (axis cs:953,272.5);
% red text
\node[anchor=west,inner sep=0pt,text=red,font=\redf] at (axis cs:56.7,60) {NMI=0.834};
\node[anchor=west,inner sep=0pt,text=red,font=\redf] at (axis cs:56.7,79) {ACC=75.3\%};
\node[anchor=west,inner sep=0pt,text=red,font=\redf] at (axis cs:386.7,65) {NMI=0.822};
\node[anchor=west,inner sep=0pt,text=red,font=\redf] at (axis cs:386.7,84.3) {ACC=72.4\%};
\node[anchor=west,inner sep=0pt,text=red,font=\redf] at (axis cs:703.3,57.3) {NMI=0.894};
\node[anchor=west,inner sep=0pt,text=red,font=\redf] at (axis cs:703.3,77.3) {ACC=92.5\%};
\node[anchor=center,inner sep=0pt,text=red,font=\redf] at (axis cs:179.2,260) {Resistance Correlation: R = 0.063};
\node[anchor=center,inner sep=0pt,text=red,font=\redf] at (axis cs:513.2,261) {Resistance Correlation: R = 0.093};
\node[anchor=center,inner sep=0pt,text=red,font=\redf] at (axis cs:844.7,259) {Resistance Correlation: R = 0.352};
% captions
\node[anchor=center,inner sep=0pt,font=\capf,text=black!90] at (axis cs:191.7,468) {3NN Graph};
\node[anchor=center,inner sep=0pt,font=\capf,text=black!90] at (axis cs:516.7,467.7) {4NN Graph};
\node[anchor=center,inner sep=0pt,font=\capf,text=black!90] at (axis cs:841.7,467.7) {2NN Graph + 100 Edges};
\end{axis}
\end{tikzpicture}
\end{document}
